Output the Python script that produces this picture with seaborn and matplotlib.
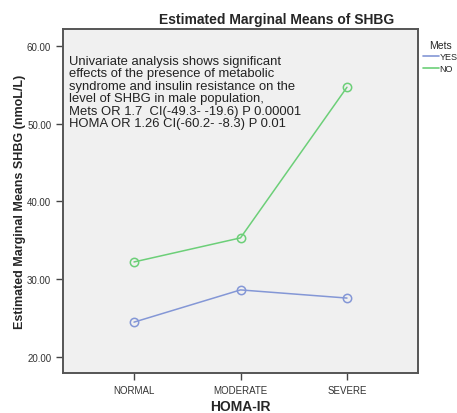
import matplotlib
matplotlib.use("Agg")
import matplotlib.pyplot as plt
import seaborn as sns
import pandas as pd
from matplotlib.lines import Line2D

categories = ["NORMAL", "MODERATE", "SEVERE"]
yes_values = [24.45, 28.6, 27.55]
no_values = [32.2, 35.3, 54.7]
y_ticks = [20, 30, 40, 50, 60]

df = pd.DataFrame({
    "HOMA-IR": categories * 2,
    "SHBG": yes_values + no_values,
    "Mets": ["YES"] * 3 + ["NO"] * 3,
})

sns.set_style("white")
plt.rcParams["font.family"] = ["Liberation Sans", "DejaVu Sans"]

fig = plt.figure(figsize=(4.57, 4.14), dpi=100)
ax = fig.add_axes([63/457, 1 - 374/414, (418-63)/457, (374-30)/414])
ax.set_facecolor("#f0f0f0")

palette = {"YES": "#8497d6", "NO": "#6ccf78"}
sns.lineplot(data=df, x="HOMA-IR", y="SHBG", hue="Mets", palette=palette,
             marker="o", markersize=6, markerfacecolor="none", markeredgewidth=1.1,
             linewidth=1.1, ax=ax, sort=False, legend=True)
for ln in ax.lines:
    ln.set_markeredgecolor(ln.get_color())

ax.set_xlim(-0.667, 2.667)
ax.set_ylim(17.9, 62.2)
ax.set_yticks(y_ticks)
ax.set_yticklabels([f"{v:.2f}" for v in y_ticks])
ax.tick_params(axis="both", which="both", direction="out", length=5, width=1,
               color="#444444", labelsize=7, labelcolor="#333333", left=True, bottom=True)
for s in ax.spines.values():
    s.set_color("#555555")
    s.set_linewidth(1.4)

ax.set_xlabel("HOMA-IR", fontsize=10, fontweight="bold", labelpad=3)
ax.set_ylabel("Estimated Marginal Means SHBG (nmoL/L)", fontsize=9, fontweight="bold", labelpad=1)
fig.text(277/457, 1 - 20/414, "Estimated Marginal Means of SHBG", ha="center", va="center",
         fontsize=10, fontweight="bold")

ax.text(0.018, 0.925,
        "Univariate analysis shows significant\n"
        "effects of the presence of metabolic\n"
        "syndrome and insulin resistance on the\n"
        "level of SHBG in male population,\n"
        "Mets OR 1.7  CI(-49.3- -19.6) P 0.00001\n"
        "HOMA OR 1.26 CI(-60.2- -8.3) P 0.01",
        transform=ax.transAxes, ha="left", va="top", fontsize=9.4, linespacing=1.05,
        color="#222222")

handles, labels = ax.get_legend_handles_labels()
handles = [Line2D([0], [0], color=palette[l], lw=1.2) for l in labels]
leg = ax.legend(handles, labels, title="Mets", loc="upper left",
                bbox_to_anchor=(1.0, 0.985), frameon=False, fontsize=6.5,
                title_fontsize=7.5, handlelength=1.7, handletextpad=0.1,
                labelspacing=0.3, borderaxespad=0.2)

fig.savefig("out.png", dpi=100, facecolor="white")
